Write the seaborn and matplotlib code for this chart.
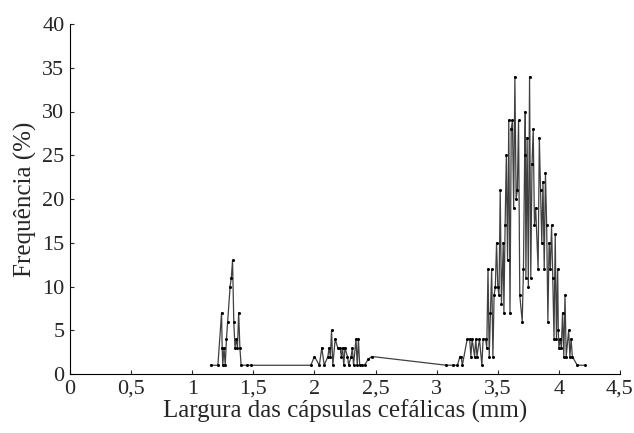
import numpy as np
import pandas as pd
import matplotlib
matplotlib.use('Agg')
import matplotlib.pyplot as plt
import seaborn as sns

# Largura das capsulas cefalicas (mm) e frequencia (%)
largura = [
    1.15, 1.21, 1.24, 1.245, 1.25, 1.26, 1.27, 1.28, 1.29, 1.31, 1.32, 1.33,
    1.34, 1.35, 1.36, 1.37, 1.38, 1.39, 1.40, 1.45, 1.48,
    1.97, 2.00, 2.04, 2.06, 2.08, 2.11, 2.12, 2.13, 2.14, 2.15, 2.17, 2.19,
    2.21, 2.22, 2.23, 2.24, 2.25, 2.27, 2.28, 2.30, 2.31, 2.32, 2.34, 2.35,
    2.36, 2.37, 2.39, 2.41, 2.44, 2.47,
    3.08, 3.13, 3.17, 3.19, 3.20, 3.21, 3.25, 3.27, 3.28, 3.29, 3.31, 3.32,
    3.33, 3.35, 3.37, 3.38, 3.40, 3.41, 3.42, 3.43, 3.44, 3.45, 3.46, 3.47,
    3.48, 3.49, 3.50, 3.51, 3.52, 3.53, 3.545, 3.55, 3.56, 3.57, 3.58, 3.59,
    3.60, 3.61, 3.62, 3.63, 3.64, 3.65, 3.66, 3.67, 3.68, 3.70, 3.71, 3.72,
    3.725, 3.73, 3.74, 3.75, 3.76, 3.77, 3.78, 3.79, 3.80, 3.81, 3.83, 3.84,
    3.85, 3.86, 3.87, 3.88, 3.89, 3.90, 3.91, 3.92, 3.93, 3.94, 3.95, 3.96,
    3.97, 3.98, 3.99, 3.995, 4.00, 4.01, 4.02, 4.03, 4.04, 4.05, 4.06, 4.08,
    4.09, 4.10, 4.11, 4.15, 4.21,
]
frequencia = [
    1, 1, 7, 3, 1, 3, 1, 4, 6, 10, 11, 13,
    6, 3, 4, 3, 7, 3, 1, 1, 1,
    1, 2, 1, 3, 1, 2, 3, 2, 5, 1, 4, 3,
    3, 2, 3, 1, 3, 2, 1, 2, 3, 1, 4, 1,
    4, 1, 1, 1, 1.7, 2,
    1, 1, 1, 2, 2, 1, 4, 4, 2, 4, 2, 4,
    2, 4, 1, 4, 4, 3, 12, 2, 7, 12, 2, 9,
    10, 15, 10, 9, 21, 8, 15, 7, 17, 25, 13, 29,
    7, 28, 29, 19, 34, 20, 21, 29, 9, 6, 12, 25,
    30, 11, 27, 10, 34, 11, 24, 28, 17, 19, 12, 27,
    21, 15, 22, 12, 23, 17, 6, 15, 12, 17, 11, 4,
    16, 4, 12, 5, 3, 4, 3, 7, 2, 9, 2, 5,
    2, 4, 2, 1, 1,
]

df = pd.DataFrame({'largura': largura, 'frequencia': frequencia})

sns.set_style('ticks')
plt.rcParams['font.family'] = ['Liberation Serif', 'DejaVu Serif']

fig, ax = plt.subplots(figsize=(6.34, 4.33), dpi=100)
fig.subplots_adjust(left=70/634, right=620/634, bottom=1-374/433, top=1-24/433)

sns.lineplot(data=df, x='largura', y='frequencia', ax=ax, color='#404040',
             linewidth=0.9, marker='o', markersize=2.2, markeredgewidth=0,
             markerfacecolor='black', sort=False)

ax.set_xlim(0, 4.5)
ax.set_ylim(0, 40)
ax.set_xticks(np.arange(0, 4.51, 0.5))
ax.set_xticklabels(['0', '0,5', '1', '1,5', '2', '2,5', '3', '3,5', '4', '4,5'])
ax.set_yticks(np.arange(0, 41, 5))
ax.tick_params(direction='in', length=3, width=0.8, labelsize=16, pad=4)
ax.set_xlabel('Largura das cápsulas cefálicas (mm)', fontsize=18, labelpad=1)
ax.set_ylabel('Frequência (%)', fontsize=18, labelpad=4)
for s in ['left', 'bottom']:
    ax.spines[s].set_linewidth(0.8)
    ax.spines[s].set_color('black')
sns.despine(ax=ax)

plt.savefig('out.png', dpi=100)
plt.close()
